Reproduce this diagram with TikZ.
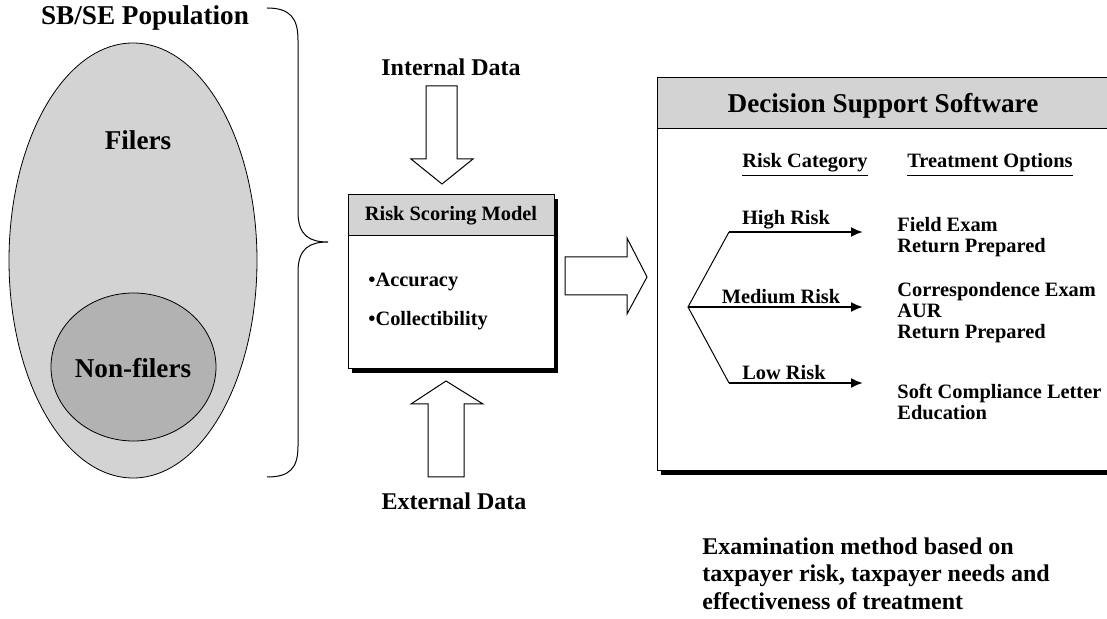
\documentclass[tikz,border=0pt]{standalone}
\usepackage{fontspec}
\setmainfont{Liberation Serif}
\usetikzlibrary{arrows.meta}
\definecolor{lightfill}{RGB}{211,211,211}
\definecolor{darkfill}{RGB}{178,178,178}
\tikzset{
  lbl/.style={inner sep=0pt, font=\fontsize{10.2}{10.5}\selectfont\bfseries},
  biglbl/.style={inner sep=0pt, font=\fontsize{13.6}{16}\selectfont\bfseries},
  midlbl/.style={inner sep=0pt, font=\fontsize{12}{13.75}\selectfont\bfseries},
  blockarrow/.style={draw, fill=white, line width=0.5pt},
  riskarrow/.style={line width=1pt, -{Latex[length=6pt,width=5pt]}},
}
\begin{document}
\begin{tikzpicture}[x=0.5pt,y=-0.5pt]
    \useasboundingbox (0,0) rectangle (1107,619);

    % population
    \filldraw[fill=lightfill, line width=0.4pt] (133,260.5) ellipse (124 and 217.5);
    \filldraw[fill=darkfill, line width=0.4pt] (133.5,367) ellipse (82.5 and 74);
    \node[biglbl] (pop) at (145,18) {SB/SE Population};
    \node[biglbl] (filers) at (138,140) {Filers};
    \node[biglbl] (nonfilers) at (133,368) {Non-filers};
    \draw[line width=0.5pt] (267,8) .. controls (290,8) and (298,18) .. (298,40) -- (298,212)
        .. controls (298,236) and (310,242) .. (328,242)
        .. controls (310,242) and (298,248) .. (298,272) -- (298,446)
        .. controls (298,468) and (290,477) .. (267,477);

    % scoring model
    \node[midlbl] (indata) at (451,67) {Internal Data};
    \draw[blockarrow] (426,86) -- (457,86) -- (457,159) -- (473,159) -- (442,184) -- (411,159) -- (426,159) -- cycle;
    \fill (352,199) rectangle (558,373);
    \filldraw[fill=white, line width=0.5pt] (348,195) rectangle (554,369);
    \filldraw[fill=lightfill, line width=0.5pt] (348,195) rectangle (554,236);
    \node[lbl] (rsm) at (451,216) {Risk Scoring Model};
    \node[lbl, anchor=west] (acc) at (368,282) {\textbullet Accuracy};
    \node[lbl, anchor=west] (coll) at (368,321) {\textbullet Collectibility};
    \draw[blockarrow] (428,477) -- (464,477) -- (464,404) -- (483,404) -- (446,381) -- (411,404) -- (428,404) -- cycle;
    \node[midlbl] (exdata) at (454,501) {External Data};
    \draw[blockarrow] (565,257) -- (627,257) -- (627,238) -- (647,277) -- (627,314) -- (627,295) -- (565,295) -- cycle;

    % decision support
    \fill (661,82) rectangle (1121,475);
    \filldraw[fill=white, line width=0.5pt] (657,78) rectangle (1117,471);
    \filldraw[fill=lightfill, line width=0.5pt] (657,78) rectangle (1117,129);
    \node[biglbl] (dss) at (883,106) {Decision Support Software};
    \node[lbl] (cat) at (805,165) {\underline{Risk Category}};
    \node[lbl] (opt) at (990,165) {\underline{Treatment Options}};

    \coordinate (fork) at (688,307);
    \coordinate (hibend) at (729,232);
    \coordinate (lobend) at (729,383);
    \coordinate (hiend) at (863,232);
    \coordinate (mdend) at (863,307);
    \coordinate (loend) at (863,383);
    \draw[line width=0.5pt] (hibend) -- (fork) -- (lobend);
    \draw[riskarrow] (hibend) -- (hiend);
    \draw[riskarrow] (fork) -- (mdend);
    \draw[riskarrow] (lobend) -- (loend);

    \node[lbl] (high) at (786,220) {High Risk};
    \node[lbl] (medium) at (781,297) {Medium Risk};
    \node[lbl] (low) at (784,373) {Low Risk};
    \node[lbl, anchor=west, align=left] (hiopt) at (897,237.5) {Field Exam\\Return Prepared};
    \node[lbl, anchor=west, align=left] (mdopt) at (897,313) {Correspondence Exam\\AUR\\Return Prepared};
    \node[lbl, anchor=west, align=left] (loopt) at (897,402) {Soft Compliance Letter\\Education};

    \node[midlbl, anchor=west, align=left] (note) at (702,573.5) {Examination method based on\\taxpayer risk, taxpayer needs and\\effectiveness of treatment};
\end{tikzpicture}
\end{document}
